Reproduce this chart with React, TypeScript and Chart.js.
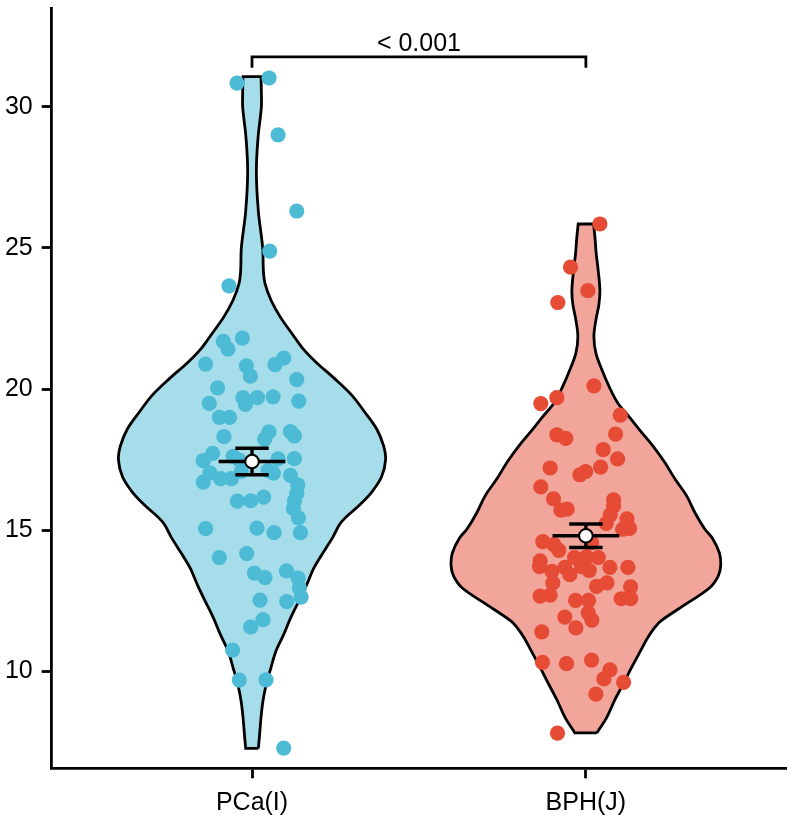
import React, { useEffect, useRef } from "react";
import { Chart, registerables } from "chart.js";

Chart.register(...registerables);

// Groups shown on the x axis (placed at x = 1, 2, ...)
const categories = ["PCa(I)", "BPH(J)"];

// Individual observations and their horizontal jitter (in category units)
const pcaValues = [
  30.84, 31.02, 29.01, 26.31, 24.89, 23.66, 21.69, 21.42, 21.81, 20.89,
  20.83, 20.46, 20.87, 21.1, 20.34, 20.05, 19.5, 19.7, 19.46, 19.7,
  19.73, 19.58, 19.0, 19.0, 18.32, 18.49, 18.23, 18.5, 18.35, 17.73,
  17.47, 17.62, 17.48, 17.53, 17.54, 17.04, 16.71, 16.83, 16.83, 17.09,
  17.12, 17.03, 16.95, 16.61, 16.3, 16.04, 15.77, 15.44, 16.04, 16.05,
  16.18, 15.06, 15.08, 14.92, 14.92, 14.04, 14.18, 13.49, 13.33, 13.57,
  13.31, 12.96, 12.64, 12.48, 12.53, 11.84, 11.58, 10.76, 9.7, 9.71,
  7.29,
];
const pcaJitter = [
  -0.045, 0.051, 0.078, 0.134, 0.053, -0.069, -0.086, -0.072, -0.029, -0.139,
  -0.017, -0.005, 0.069, 0.095, 0.134, -0.103, -0.128, -0.027, -0.02, 0.016,
  0.063, 0.14, -0.098, -0.067, -0.084, 0.051, 0.038, 0.115, 0.127, -0.118,
  -0.146, -0.057, -0.037, 0.078, 0.127, -0.126, -0.146, -0.094, -0.062, -0.032,
  0.048, 0.064, 0.115, 0.137, 0.134, 0.127, 0.124, 0.139, -0.044, -0.004,
  0.035, -0.139, 0.015, 0.066, 0.145, -0.098, -0.016, 0.007, 0.039, 0.103,
  0.138, 0.142, 0.147, 0.104, 0.024, 0.033, -0.004, -0.058, -0.038, 0.042,
  0.095,
];
const bphValues = [
  25.85, 24.32, 23.49, 23.07, 20.12, 19.7, 19.49, 19.08, 18.38, 18.26,
  18.41, 17.86, 17.53, 17.21, 16.97, 17.08, 17.24, 16.54, 16.12, 15.72,
  15.75, 16.08, 15.87, 15.55, 15.25, 15.41, 15.07, 15.04, 14.6, 14.5,
  14.29, 14.57, 13.92, 13.72, 14.04, 14.06, 14.04, 13.55, 13.69, 13.43,
  13.72, 13.58, 13.69, 13.69, 13.14, 12.67, 12.71, 13.02, 13.14, 13.0,
  12.58, 12.58, 12.52, 12.52, 11.93, 12.08, 11.82, 11.55, 11.41, 10.33,
  10.28, 10.41, 10.06, 9.74, 9.62, 9.2, 7.82,
];
const bphJitter = [
  0.042, -0.046, 0.006, -0.084, 0.024, -0.087, -0.135, 0.103, -0.087, -0.06,
  0.089, 0.052, 0.095, -0.107, -0.018, -0.001, 0.044, -0.135, -0.097, -0.075,
  -0.056, 0.083, 0.083, 0.073, 0.061, 0.123, 0.131, 0.11, -0.129, -0.096,
  -0.081, 0.017, -0.137, -0.139, -0.034, 0.002, 0.037, -0.102, -0.063, -0.048,
  -0.013, 0.01, 0.072, 0.126, -0.099, -0.137, -0.107, 0.032, 0.063, 0.134,
  0.106, 0.134, -0.031, 0.008, -0.063, 0.007, 0.018, -0.03, -0.132, -0.13,
  -0.058, 0.017, 0.072, 0.054, 0.113, 0.03, -0.085,
];

// Group mean and standard error
const groupMeans = [17.44, 14.81];
const groupSE = [0.47, 0.415];

// Violin outlines: density half-width (category units) at each value
const pcaViolinY = [
  7.28, 7.81, 8.39, 8.98, 9.57, 10.15, 10.74, 11.32, 11.91, 12.49,
  13.08, 13.66, 14.14, 14.7, 15.3, 15.9, 16.35, 16.9, 17.5, 18.0,
  18.6, 19.2, 19.8, 20.4, 20.93, 21.4, 21.98, 22.57, 23.15, 23.74,
  24.2, 25.0, 26.3, 27.7, 28.9, 30.0, 30.5, 31.07,
];
const pcaViolinW = [
  0.019, 0.023, 0.027, 0.033, 0.043, 0.057, 0.072, 0.095, 0.116, 0.14,
  0.164, 0.185, 0.209, 0.239, 0.268, 0.322, 0.358, 0.388, 0.4, 0.394,
  0.373, 0.337, 0.298, 0.245, 0.194, 0.155, 0.119, 0.084, 0.057, 0.039,
  0.034, 0.032, 0.019, 0.013, 0.018, 0.028, 0.028, 0.027,
];
const bphViolinY = [
  7.83, 8.39, 8.98, 9.57, 10.15, 10.74, 11.2, 11.56, 11.79, 12.38,
  12.96, 13.4, 13.78, 14.2, 14.72, 15.07, 15.6, 16.24, 16.8, 17.41,
  18.0, 18.47, 19.0, 19.52, 20.11, 20.69, 21.28, 21.87, 22.45, 23.0,
  23.5, 24.3, 24.79, 25.4, 25.85,
];
const bphViolinW = [
  0.033, 0.063, 0.086, 0.112, 0.137, 0.164, 0.185, 0.206, 0.224, 0.298,
  0.37, 0.397, 0.404, 0.4, 0.379, 0.355, 0.328, 0.301, 0.268, 0.236,
  0.2, 0.167, 0.131, 0.095, 0.069, 0.048, 0.03, 0.024, 0.03, 0.039,
  0.042, 0.036, 0.031, 0.027, 0.023,
];

const yTicks = [10, 15, 20, 25, 30];

// Significance bracket between the two groups
const pValueLabel = "< 0.001";
const bracketTop = 31.77;
const bracketFoot = 31.38;

const FONT = "'Liberation Sans', Arial, Helvetica, sans-serif";
const FONT_SIZE = 25;
const pointColors = ["#4DBBD5", "#E64B35"];
const violinFills = ["rgba(77,187,213,0.5)", "rgba(230,75,53,0.5)"];

type Pt = { x: number; y: number };

// Closed outline: right side upwards, left side downwards. End points are
// doubled so the spline keeps sharp corners at the flat top and bottom.
function violinOutline(center: number, ys: number[], ws: number[]): Pt[] {
  const right = ys.map((y, i) => ({ x: center + ws[i], y }));
  const left = ys.map((y, i) => ({ x: center - ws[i], y })).reverse();
  const pts: Pt[] = [];
  for (const side of [right, left]) {
    pts.push(side[0], ...side, side[side.length - 1]);
  }
  pts.push(right[0], right[0]);
  return pts;
}

function segment(x0: number, y0: number, x1: number, y1: number, width: number, order = 1) {
  return {
    type: "line" as const,
    data: [
      { x: x0, y: y0 },
      { x: x1, y: y1 },
    ],
    borderColor: "#000",
    borderWidth: width,
    borderCapStyle: "butt" as const,
    pointRadius: 0,
    tension: 0,
    fill: false,
    order,
  };
}

const pValuePlugin = {
  id: "pValueLabel",
  afterDatasetsDraw(chart: any) {
    const { ctx, scales } = chart;
    ctx.save();
    ctx.font = `${FONT_SIZE}px ${FONT}`;
    ctx.fillStyle = "#000";
    ctx.textAlign = "center";
    ctx.textBaseline = "alphabetic";
    ctx.fillText(
      pValueLabel,
      scales.x.getPixelForValue(1.5),
      scales.y.getPixelForValue(bracketTop) - 6
    );
    ctx.restore();
  },
};

export default function App() {
  const canvasRef = useRef<HTMLCanvasElement | null>(null);

  useEffect(() => {
    const canvas = canvasRef.current;
    if (!canvas) return;

    const groups = [
      { values: pcaValues, jitter: pcaJitter, vy: pcaViolinY, vw: pcaViolinW },
      { values: bphValues, jitter: bphJitter, vy: bphViolinY, vw: bphViolinW },
    ];

    const datasets: any[] = [];
    groups.forEach((g, i) => {
      const c = i + 1;
      datasets.push({
        type: "line",
        data: violinOutline(c, g.vy, g.vw),
        borderColor: "#000",
        borderWidth: 2.8,
        backgroundColor: violinFills[i],
        fill: "shape",
        tension: 0.35,
        pointRadius: 0,
        order: 10,
      });
      datasets.push({
        type: "scatter",
        data: g.values.map((v, k) => ({ x: c + g.jitter[k], y: v })),
        backgroundColor: pointColors[i],
        borderWidth: 0,
        pointRadius: 7.6,
        order: 5,
      });
      const m = groupMeans[i];
      const se = groupSE[i];
      datasets.push(segment(c - 0.1, m, c + 0.1, m, 3.4));
      datasets.push(segment(c - 0.05, m + se, c + 0.05, m + se, 3.4));
      datasets.push(segment(c - 0.05, m - se, c + 0.05, m - se, 3.4));
      datasets.push(segment(c, m - se, c, m + se, 3.4));
      datasets.push({
        type: "scatter",
        data: [{ x: c, y: m }],
        backgroundColor: "#fff",
        borderColor: "#000",
        borderWidth: 2,
        pointRadius: 6.8,
        order: 0,
      });
    });
    datasets.push({
      type: "line",
      data: [
        { x: 1, y: bracketFoot },
        { x: 1, y: bracketTop },
        { x: 2, y: bracketTop },
        { x: 2, y: bracketFoot },
      ],
      borderColor: "#000",
      borderWidth: 2.8,
      borderCapStyle: "butt",
      pointRadius: 0,
      tension: 0,
      fill: false,
      order: 1,
    });

    const chart = new Chart(canvas, {
      type: "scatter",
      data: { datasets },
      plugins: [pValuePlugin],
      options: {
        animation: false,
        responsive: false,
        devicePixelRatio: 1,
        events: [],
        layout: { padding: { left: 0, top: 4, right: 4, bottom: 0 } },
        plugins: {
          legend: { display: false },
          tooltip: { enabled: false },
        },
        scales: {
          x: {
            type: "linear",
            min: 0.4,
            max: 2.6,
            afterBuildTicks: (s: any) => {
              s.ticks = categories.map((_, i) => ({ value: i + 1 }));
            },
            afterFit: (s: any) => {
              s.height = 51.7;
              s.paddingLeft = 0;
              s.paddingRight = 0;
            },
            ticks: {
              callback: (v: any) => categories[Number(v) - 1] ?? "",
              font: { family: FONT, size: FONT_SIZE },
              color: "#000",
              padding: 10,
              autoSkip: false,
              maxRotation: 0,
            },
            grid: {
              drawOnChartArea: false,
              drawTicks: true,
              tickLength: 10,
              tickWidth: 2.8,
              tickColor: "#000",
            },
            border: { display: true, color: "#000", width: 2.8 },
          },
          y: {
            type: "linear",
            min: 6.576,
            max: 33.47,
            afterBuildTicks: (s: any) => {
              s.ticks = yTicks.map((v) => ({ value: v }));
            },
            afterFit: (s: any) => {
              s.width = 51.7;
              s.paddingTop = 0;
              s.paddingBottom = 0;
            },
            ticks: {
              callback: (v: any) => String(v),
              font: { family: FONT, size: FONT_SIZE },
              color: "#000",
              padding: 9,
            },
            grid: {
              drawOnChartArea: false,
              drawTicks: true,
              tickLength: 10,
              tickWidth: 2.8,
              tickColor: "#000",
            },
            border: { display: true, color: "#000", width: 2.8 },
          },
        },
      },
    } as any);

    return () => chart.destroy();
  }, []);

  return (
    <div style={{ position: "absolute", left: 0, top: 0, width: 795, height: 820, background: "#fff" }}>
      <canvas ref={canvasRef} width={795} height={820} />
    </div>
  );
}
